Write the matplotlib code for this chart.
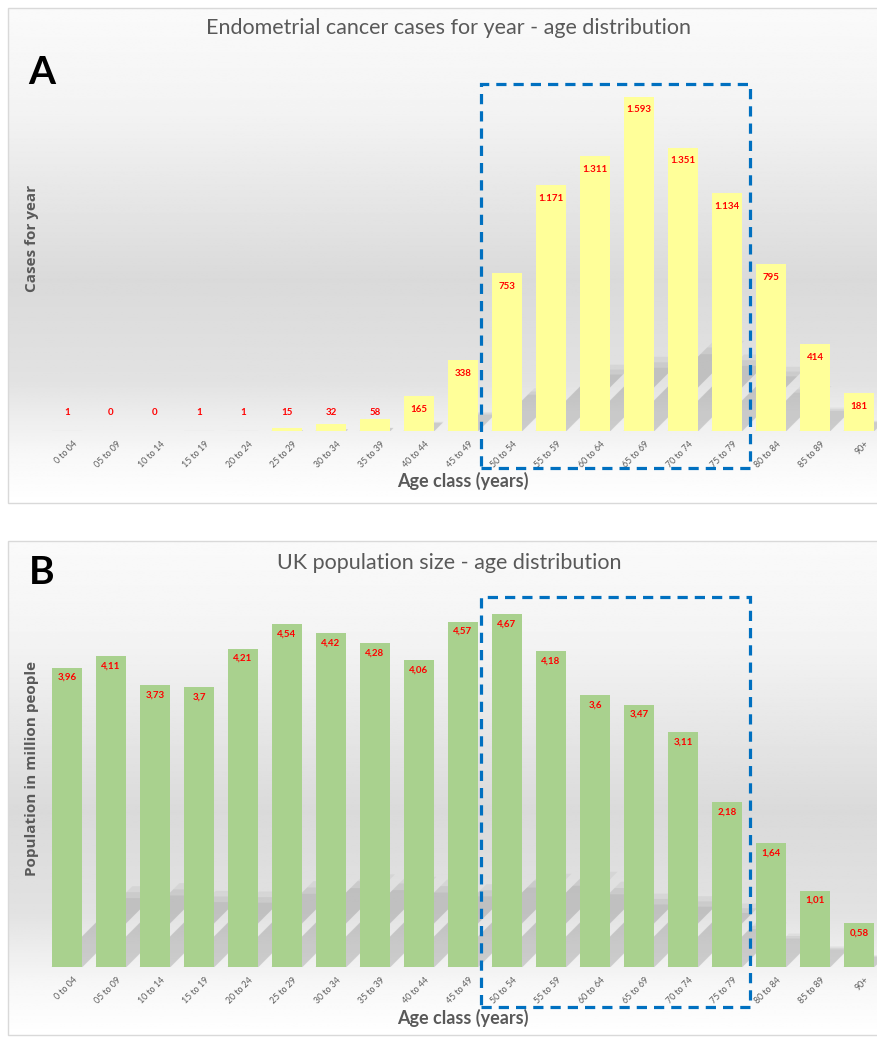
import numpy as np
import matplotlib.pyplot as plt
from matplotlib.patches import Rectangle, Polygon

# Age classes and values
age_classes = ['0 to 04', '05 to 09', '10 to 14', '15 to 19', '20 to 24', '25 to 29',
               '30 to 34', '35 to 39', '40 to 44', '45 to 49', '50 to 54', '55 to 59',
               '60 to 64', '65 to 69', '70 to 74', '75 to 79', '80 to 84', '85 to 89', '90+']

cases = [1, 0, 0, 1, 1, 15, 32, 58, 165, 338, 753, 1171, 1311, 1593, 1351, 1134, 795, 414, 181]
case_labels = ['1', '0', '0', '1', '1', '15', '32', '58', '165', '338', '753',
               '1.171', '1.311', '1.593', '1.351', '1.134', '795', '414', '181']

population = [3.96, 4.11, 3.73, 3.70, 4.21, 4.54, 4.42, 4.28, 4.06, 4.57, 4.67,
              4.18, 3.60, 3.47, 3.11, 2.18, 1.64, 1.01, 0.58]
pop_labels = ['3,96', '4,11', '3,73', '3,7', '4,21', '4,54', '4,42', '4,28', '4,06', '4,57',
              '4,67', '4,18', '3,6', '3,47', '3,11', '2,18', '1,64', '1,01', '0,58']

highlight = ('50 to 54', '75 to 79')

W, H = 878, 1038
font = ['Lato', 'DejaVu Sans']
grey_txt = '#595959'

fig = plt.figure(figsize=(W / 100, H / 100), dpi=100)
fig.patch.set_facecolor('white')

# background axes in pixel coordinates
bg = fig.add_axes([0, 0, 1, 1], zorder=-5)
bg.set_xlim(0, W)
bg.set_ylim(H, 0)
bg.axis('off')


def panel_bg(top, bottom):
    # grey gradient like the office chart style
    stops_y = np.array([0.0, 0.2, 0.55, 0.75, 0.9, 1.0])
    stops_c = np.array([0.98, 0.955, 0.855, 0.885, 0.97, 1.0])
    yy = np.linspace(0, 1, 300)
    col = np.interp(yy, stops_y, stops_c)
    img = np.repeat(col[:, None], 2, axis=1)
    bg.imshow(img, cmap='gray', vmin=0, vmax=1, aspect='auto',
              extent=(8, W, bottom, top), zorder=0)
    bg.add_patch(Rectangle((8, top), W - 8, bottom - top, fill=False,
                           edgecolor='#d9d9d9', lw=1, zorder=1))


panel_bg(8, 503)
panel_bg(541, 1035)


def px_axes(left, top, right, bottom):
    return fig.add_axes([left / W, 1 - bottom / H, (right - left) / W, (bottom - top) / H])


def draw_panel(ax, values, labels, color, ymax, lab_off, lab_min, box_bottom):
    x = np.arange(len(age_classes))
    ax.set_xlim(-0.5, len(age_classes) - 0.5)
    ax.set_ylim(0, ymax)
    ax.patch.set_alpha(0)
    for s in ax.spines.values():
        s.set_visible(False)
    ax.set_yticks([])
    ax.set_xticks([])

    # soft diagonal shadows behind the bars
    bbox = ax.get_window_extent()
    px_x = bbox.width / (len(age_classes))
    px_y = bbox.height / ymax
    w = 0.7
    for xi, v in zip(x, values):
        hpx = v * px_y
        for frac, a in [(0.27, 0.08), (0.25, 0.09), (0.23, 0.1)]:
            sh = frac * hpx
            dx = sh / px_x
            dy = sh / px_y
            poly = Polygon([(xi - w / 2, 0), (xi + w / 2, 0), (xi + w / 2 + dx, dy),
                            (xi - w / 2 + dx, dy)], closed=True, facecolor='#606060',
                           alpha=a, edgecolor='none', zorder=1)
            ax.add_patch(poly)

    ax.bar(x, values, width=w, color=color, zorder=2)

    for xi, v, t in zip(x, values, labels):
        ax.text(xi, max(v - lab_off, lab_min), t, ha='center', va='center', color='#ff0000',
                fontsize=7, fontweight='bold', family=font, zorder=3)
        ax.annotate(age_classes[xi], (xi, 0), xytext=(4, -6), textcoords='offset points',
                    ha='right', va='top', rotation=45, fontsize=6.3, color=grey_txt,
                    family=font, rotation_mode='anchor')

    i0 = age_classes.index(highlight[0])
    i1 = age_classes.index(highlight[1])
    box = Rectangle((i0 - 0.58, box_bottom), i1 - i0 + 1.1, ymax - box_bottom, fill=False,
                    edgecolor='#0070c0', lw=2.3, linestyle=(0, (3.2, 2.2)), clip_on=False,
                    zorder=4)
    ax.add_patch(box)


# Panel A
axA = px_axes(45, 84, 881, 431)
ymaxA = 1593 * (431 - 84) / 334
draw_panel(axA, cases, case_labels, '#ffff99', ymaxA, 62, 86, -176)

# Panel B
axB = px_axes(45, 597, 881, 967)
ymaxB = 4.67 * (967 - 597) / 353
draw_panel(axB, population, pop_labels, '#a9d18e', ymaxB, 0.13, 0.2, -0.53)

# texts
bg.text(449, 28, 'Endometrial cancer cases for year - age distribution', ha='center',
        va='center', fontsize=15.5, color=grey_txt, family=font)
bg.text(449, 563, 'UK population size - age distribution', ha='center',
        va='center', fontsize=15.5, color=grey_txt, family=font)
bg.text(42, 72, 'A', ha='center', va='center', fontsize=28, fontweight='bold',
        color='black', family=font)
bg.text(42, 572, 'B', ha='center', va='center', fontsize=28, fontweight='bold',
        color='black', family=font)
bg.text(463, 481, 'Age class (years)', ha='center', va='center', fontsize=13,
        fontweight='bold', color=grey_txt, family=font)
bg.text(463, 1018, 'Age class (years)', ha='center', va='center', fontsize=13,
        fontweight='bold', color=grey_txt, family=font)
bg.text(32, 238, 'Cases for year', ha='center', va='center', rotation=90, fontsize=11,
        fontweight='bold', color=grey_txt, family='Open Sans')
bg.text(32, 768, 'Population in million people', ha='center', va='center', rotation=90,
        fontsize=11, fontweight='bold', color=grey_txt, family='Open Sans')

fig.savefig('out.png', dpi=100)
